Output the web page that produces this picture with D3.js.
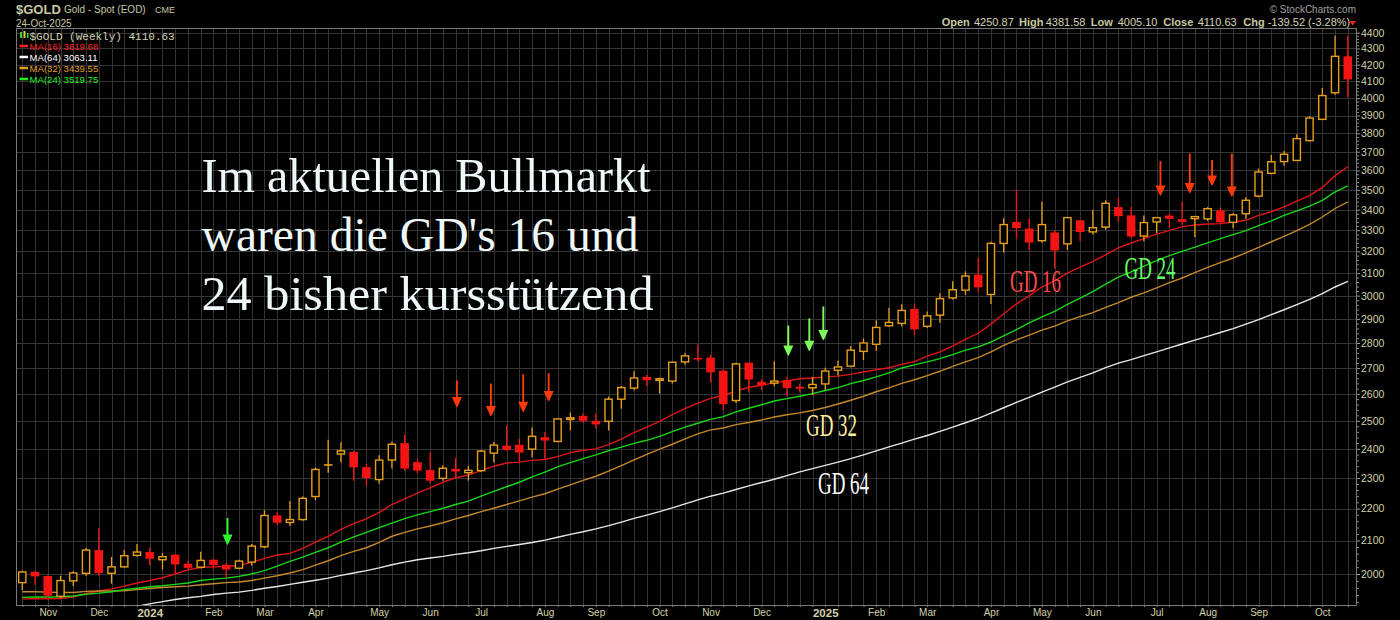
<!DOCTYPE html>
<html><head><meta charset="utf-8">
<script src="https://cdn.jsdelivr.net/npm/d3@7"></script>
<style>
html,body{margin:0;padding:0;background:#000;}
svg{display:block;}
</style></head>
<body>
<svg id="c" width="1400" height="620"></svg>
<script>
// ---------- data (weekly candles, 27-Oct-2023 .. 24-Oct-2025) ----------
const opens = [1975,2006,1994,1936,1980,2002,2071,2002,2021,2055,2065,2042,2057,2030,2020,2042,2027,2017,2035,2081,2178,2156,2165,2239,2347,2382,2389,2337,2295,2361,2420,2354,2327,2299,2331,2318,2325,2385,2411,2414,2399,2441,2426,2507,2518,2500,2498,2580,2622,2665,2655,2649,2724,2740,2741,2689,2575,2721,2646,2641,2653,2627,2623,2638,2691,2707,2766,2795,2871,2881,2942,2869,2916,2990,3024,3093,3005,3237,3340,3308,3250,3289,3235,3348,3292,3315,3413,3372,3272,3340,3371,3353,3356,3355,3397,3338,3380,3468,3585,3647,3653,3760,3878,4031,4250.87];
const highs = [2010,2010,1996,1995,2008,2077,2138,2050,2071,2089,2079,2062,2058,2038,2066,2045,2032,2042,2089,2195,2188,2224,2239,2336,2432,2423,2392,2348,2378,2425,2450,2364,2389,2343,2369,2341,2396,2424,2483,2435,2476,2460,2510,2530,2527,2527,2590,2630,2687,2673,2662,2725,2760,2793,2753,2695,2721,2722,2656,2727,2666,2640,2665,2701,2729,2788,2818,2894,2947,2963,2963,2932,3010,3063,3108,3170,3245,3358,3500,3356,3440,3298,3362,3349,3400,3447,3460,3413,3372,3362,3380,3440,3368,3413,3411,3382,3462,3610,3682,3704,3795,3896,4059,4381,4381.58];
const lows = [1953,1969,1931,1931,1965,1995,1995,1972,2018,2052,2026,2013,2001,2011,2017,2015,1990,2014,2025,2077,2147,2145,2161,2227,2318,2354,2291,2274,2281,2332,2325,2317,2282,2291,2302,2291,2320,2353,2393,2357,2371,2364,2423,2466,2492,2471,2465,2544,2614,2629,2601,2640,2713,2727,2643,2539,2566,2606,2614,2629,2590,2605,2595,2615,2671,2703,2731,2768,2868,2868,2832,2862,2884,2983,3003,3015,2964,3194,3260,3205,3241,3121,3206,3249,3280,3303,3340,3262,3247,3287,3312,3326,3266,3345,3336,3310,3356,3462,3580,3626,3652,3756,3878,4020,4005.10];
const closes = [2006,1993,1938,1981,2003,2071,2003,2021,2054,2065,2045,2051,2028,2018,2040,2026,2013,2038,2083,2178,2155,2165,2233,2329,2344,2393,2336,2300,2361,2416,2332,2325,2291,2333,2322,2326,2392,2413,2396,2387,2444,2429,2507,2511,2500,2487,2580,2624,2661,2652,2658,2723,2748,2736,2683,2561,2716,2655,2632,2649,2622,2620,2636,2688,2704,2771,2800,2864,2885,2936,2856,2913,2987,3026,3087,3037,3237,3327,3310,3241,3327,3204,3361,3291,3312,3432,3368,3270,3337,3361,3355,3340,3366,3405,3338,3375,3447,3592,3646,3686,3771,3886,4015,4251,4110.63];
const prevClose = 1981;
const ma16 = [1928,1930,1929,1930,1934,1944,1951,1957,1965,1974,1981,1989,2000,2012,2019,2021,2022,2025,2034,2046,2056,2061,2076,2095,2113,2134,2152,2167,2188,2213,2231,2250,2267,2286,2301,2310,2325,2340,2351,2354,2360,2363,2373,2387,2395,2400,2415,2434,2457,2477,2498,2523,2545,2565,2583,2594,2611,2625,2633,2642,2649,2658,2661,2665,2668,2675,2684,2693,2701,2714,2725,2747,2764,2787,2815,2840,2878,2922,2964,2999,3038,3065,3100,3127,3153,3184,3216,3239,3260,3281,3298,3317,3325,3330,3332,3340,3348,3372,3390,3414,3443,3471,3512,3573,3619.68];
const ma64 = [1866,1869,1872,1875,1880,1885,1891,1896,1903,1908,1915,1921,1927,1932,1936,1941,1945,1948,1953,1959,1964,1970,1976,1982,1988,1996,2003,2010,2018,2027,2035,2042,2047,2052,2058,2063,2069,2076,2082,2088,2094,2101,2110,2119,2127,2136,2146,2157,2169,2179,2190,2202,2215,2228,2240,2250,2262,2274,2285,2296,2308,2321,2332,2343,2354,2366,2379,2393,2407,2420,2434,2447,2462,2477,2493,2509,2528,2548,2568,2587,2607,2626,2646,2663,2681,2701,2719,2733,2749,2764,2780,2796,2812,2827,2843,2859,2878,2897,2918,2939,2961,2984,3009,3038,3063.11];
const ma32 = [1949,1949,1948,1947,1947,1950,1951,1951,1952,1955,1958,1961,1963,1965,1969,1972,1975,1977,1981,1988,1995,2003,2013,2026,2039,2054,2067,2078,2094,2113,2125,2136,2145,2155,2167,2178,2190,2201,2213,2225,2237,2248,2263,2277,2292,2306,2323,2342,2362,2381,2399,2416,2435,2453,2467,2474,2486,2494,2503,2514,2522,2529,2538,2549,2562,2576,2591,2608,2623,2640,2654,2670,2687,2706,2724,2741,2764,2790,2813,2832,2853,2870,2892,2910,2927,2949,2970,2993,3012,3034,3057,3078,3102,3126,3148,3169,3193,3218,3245,3270,3298,3328,3364,3406,3439.55];
const ma24 = [1933,1934,1934,1935,1937,1942,1945,1949,1955,1959,1963,1966,1970,1974,1981,1985,1988,1993,2000,2010,2023,2037,2050,2064,2078,2095,2111,2125,2140,2154,2168,2180,2190,2201,2213,2224,2240,2256,2271,2286,2304,2320,2338,2352,2366,2379,2394,2406,2419,2430,2444,2461,2477,2491,2505,2515,2533,2546,2559,2573,2582,2591,2601,2613,2624,2639,2651,2665,2681,2700,2712,2724,2737,2753,2771,2784,2804,2829,2855,2883,2909,2932,2962,2989,3018,3051,3082,3106,3132,3157,3180,3200,3220,3240,3260,3279,3298,3322,3345,3372,3394,3418,3447,3489,3519.75];
const priceTicks = [2000,2100,2200,2300,2400,2500,2600,2700,2800,2900,3000,3100,3200,3300,3400,3500,3600,3700,3800,3900,4000,4100,4200,4300,4400];
const monthLabels = ["Nov","Dec","2024","Feb","Mar","Apr","May","Jun","Jul","Aug","Sep","Oct","Nov","Dec","2025","Feb","Mar","Apr","May","Jun","Jul","Aug","Sep","Oct"];
const monthBars = [2,6,10,15,19,23,28,32,36,41,45,50,54,58,63,67,71,76,80,84,89,93,97,102];
const maNames = ["MA(16)","MA(64)","MA(32)","MA(24)"];
const maLast = ["3619.68","3063.11","3439.55","3519.75"];
const arrowBars = [16.1,34.1,36.77,39.3,41.3,60.1,61.75,62.85,89.3,91.6,93.35,94.9];
const arrowTops = [2170,2651,2639,2675,2680,2872,2902,2953,3649,3690,3655,3690];
const arrowTips = [2086,2549,2516,2531,2571,2747,2767,2810,3468,3481,3520,3464];
const arrowKinds = ["buy1","sell","sell","sell","sell","buy","buy","buy","sell","sell","sell","sell"];
const noteLines = ["Im aktuellen Bullmarkt","waren die GD's 16 und","24 bisher kursstützend"];
const gdLabels = ["GD 16","GD 24","GD 32","GD 64"];

// ---------- layout ----------
const L=16,R=1357,T=28,B=605;
const svg=d3.select('#c');
svg.append('rect').attr('width',1400).attr('height',620).attr('fill','#000');
const x=d3.scaleLinear().domain([0,104]).range([22.3,1347.8]);
const y=d3.scaleLog().domain([2000,4400]).range([574,32.7]);
const px=v=>Math.round(v)+0.5;

svg.append('clipPath').attr('id','pc').append('rect').attr('x',L).attr('y',T).attr('width',R-L).attr('height',B-T);

// grid
const grid=svg.append('g').attr('stroke','#353535').attr('stroke-width',1);
priceTicks.forEach(p=>grid.append('line').attr('x1',L).attr('x2',R).attr('y1',px(y(p))).attr('y2',px(y(p))));
closes.forEach((c,i)=>grid.append('line').attr('x1',px(x(i))).attr('x2',px(x(i))).attr('y1',T).attr('y2',B));

// moving averages
const maSeries=[ma16,ma64,ma32,ma24];
const maColors=["#e01515","#e8e8e8","#c4892a","#18d818"];
const plot=svg.append('g').attr('clip-path','url(#pc)');
const line=d3.line().x((d,i)=>x(i)).y(d=>y(d));
maSeries.forEach((vals,k)=>{
  plot.append('path').datum(vals).attr('fill','none').attr('stroke',maColors[k]).attr('stroke-width',1.4).attr('d',line);
});

// candles
const ORANGE="#e6a01c", RED="#f41414";
closes.forEach((c,i)=>{
  const o=opens[i];
  const prev=i>0?closes[i-1]:prevClose;
  const col=c<prev?RED:ORANGE;
  const cx=x(i);
  plot.append('line').attr('x1',cx).attr('x2',cx).attr('y1',y(highs[i])).attr('y2',y(lows[i])).attr('stroke',col).attr('stroke-width',1.3);
  const top=y(Math.max(o,c)), bot=y(Math.min(o,c));
  const h=Math.max(bot-top,1.6);
  if(c<o){
    plot.append('rect').attr('x',cx-4.3).attr('y',top).attr('width',8.6).attr('height',h).attr('fill',col);
  } else {
    plot.append('rect').attr('x',cx-3.6).attr('y',top).attr('width',7.2).attr('height',Math.max(h,1)).attr('fill','#000').attr('stroke',col).attr('stroke-width',1.4);
  }
});

// arrows
const arrowCol={buy1:"#2bff2b",buy:"#7dff5a",sell:"#ff3a0a"};
arrowBars.forEach((b,k)=>{
  const ax=x(b), y0=y(arrowTops[k]), y1=y(arrowTips[k]);
  const col=arrowCol[arrowKinds[k]];
  plot.append('line').attr('x1',ax).attr('x2',ax).attr('y1',y0).attr('y2',y1-8).attr('stroke',col).attr('stroke-width',1.9);
  plot.append('path').attr('d',`M${ax-5},${y1-10.5}L${ax+5},${y1-10.5}L${ax+1.2},${y1-2}L${ax},${y1}L${ax-1.2},${y1-2}Z`).attr('fill',col);
});

// border
svg.append('rect').attr('x',L+0.5).attr('y',T+0.5).attr('width',R-L-1).attr('height',B-T).attr('fill','none').attr('stroke','#7a7a7a');

// right axis
const BEIGE="#d2d2aa";
const ra=svg.append('g').attr('transform',`translate(${R},0)`)
  .call(d3.axisRight(y).tickValues(priceTicks).tickFormat(d3.format('d')).tickSize(3).tickPadding(1));
ra.select('.domain').remove();
ra.selectAll('text').attr('fill',BEIGE).style('font','10.5px "Liberation Sans",Arial,sans-serif');
ra.selectAll('line').attr('stroke','#9a9a9a');
const minor=[];priceTicks.forEach(p=>{[20,40,60,80].forEach(d=>{if(p+d<4400)minor.push(p+d);});});
[1920,1940,1960,1980].forEach(v=>minor.push(v));
const rm=svg.append('g').attr('transform',`translate(${R},0)`).call(d3.axisRight(y).tickValues(minor).tickFormat('').tickSize(2));
rm.select('.domain').remove(); rm.selectAll('line').attr('stroke','#8a8a8a');

// bottom axis
const wk=svg.append('g').attr('transform',`translate(0,${B})`).call(d3.axisBottom(x).tickValues(closes.map((c,i)=>i)).tickFormat('').tickSize(2));
wk.select('.domain').remove(); wk.selectAll('line').attr('stroke','#8a8a8a');
const ba=svg.append('g').attr('transform',`translate(0,${B})`).call(d3.axisBottom(x).tickValues(monthBars).tickFormat((d,i)=>monthLabels[i]).tickSize(0).tickPadding(4));
ba.select('.domain').remove();
ba.selectAll('text').attr('fill',BEIGE).attr('dy','0.68em').style('font','10px "Liberation Sans",Arial,sans-serif')
  .filter((d,i)=>/^\d+$/.test(monthLabels[i])).style('font','bold 11.5px "Liberation Sans",Arial,sans-serif');

// header
const hdr=svg.append('g').style('font-family','"Liberation Sans",Arial,sans-serif');
hdr.append('text').attr('x',16).attr('y',13.5).attr('fill','#c8c8a0').style('font-weight','bold').style('font-size','13px').text('$GOLD');
hdr.append('text').attr('x',64).attr('y',13).attr('fill','#c8c8a4').style('font-size','10px').text('Gold - Spot (EOD)');
hdr.append('text').attr('x',155).attr('y',13).attr('fill','#c8c8a4').style('font-size','9px').text('CME');
hdr.append('text').attr('x',16).attr('y',26.5).attr('fill','#c8c8a4').style('font-size','10px').text('24-Oct-2025');
hdr.append('text').attr('x',1356).attr('y',12.5).attr('text-anchor','end').attr('fill','#a0a0a0').style('font-size','10px').text('© StockCharts.com');
const ohlc=[["Open",941.7,true],["4250.87",974,false],["High",1019,true],["4381.58",1045.7,false],["Low",1090.7,true],["4005.10",1117.7,false],["Close",1163.3,true],["4110.63",1197.7,false],["Chg",1243.3,true],["-139.52 (-3.28%)",1267.7,false]];
ohlc.forEach(([t,xx,b])=>hdr.append('text').attr('x',xx).attr('y',26).attr('fill',b?'#c8c8a0':'#d4d4b4').style('font-size','11px').style('font-weight',b?'bold':'normal').text(t));
hdr.append('path').attr('d','M1349.5,21L1356,21L1352.75,25.5Z').attr('fill','#ff2020');

// legend
const lg=svg.append('g');
lg.append('rect').attr('x',20).attr('y',32).attr('width',2).attr('height',6).attr('fill','#2bd82b');
lg.append('rect').attr('x',23.5).attr('y',31).attr('width',2).attr('height',7).attr('fill','#d8d040');
lg.append('rect').attr('x',27).attr('y',33).attr('width',1.5).attr('height',5).attr('fill','#2bd82b');
lg.append('text').attr('x',29.5).attr('y',39.5).attr('fill','#d2d2b0').style('font','11px "Liberation Mono","DejaVu Sans Mono",monospace').text('$GOLD (Weekly) 4110.63');
const lgCol=["#ff2222","#ffffff","#e0a030","#22ee22"];
maNames.forEach((nm,k)=>{
  const yy=46+k*11;
  lg.append('line').attr('x1',19.5).attr('x2',28).attr('y1',yy).attr('y2',yy).attr('stroke',lgCol[k]).attr('stroke-width',2.5);
  lg.append('text').attr('x',29.5).attr('y',yy+3.6).attr('fill',lgCol[k]).style('font','9.6px "Liberation Sans",Arial,sans-serif').text(nm+' '+maLast[k]);
});

// annotations
const note=svg.append('g').style('font-family','"Liberation Serif","Times New Roman",serif').attr('fill','#eef8f8');
const noteLen=[449,437,452];
noteLines.forEach((t,k)=>note.append('text').attr('x',201.5).attr('y',192+k*59).attr('textLength',noteLen[k]).attr('lengthAdjust','spacingAndGlyphs').style('font-size','48px').text(t));
const gdX=[1010,1124.5,806,818], gdY=[292,279.3,436,494], gdC=["#ff4a4a","#66ff66","#ffeea0","#ffffff"];
gdLabels.forEach((t,k)=>svg.append('text').attr('x',gdX[k]).attr('y',gdY[k]).attr('fill',gdC[k]).attr('textLength',51).attr('lengthAdjust','spacingAndGlyphs')
  .style('font','32px "Liberation Serif","Times New Roman",serif').text(t));
</script>
</body></html>
